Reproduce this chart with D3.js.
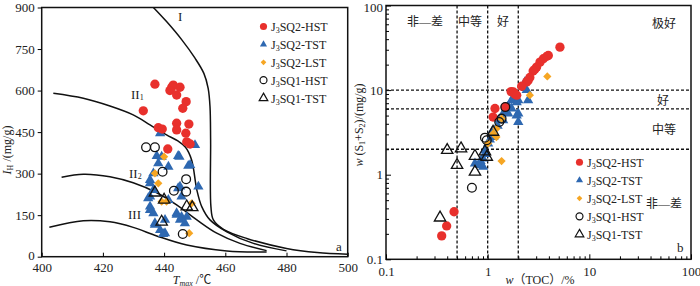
<!DOCTYPE html>
<html>
<head>
<meta charset="utf-8">
<script src="https://cdn.jsdelivr.net/npm/d3@7"></script>
<style>
  body { margin: 0; background: #fff; }
  svg text { font-family: "Liberation Serif", "Noto Sans CJK SC", serif; fill: #222; }
</style>
</head>
<body>
<div id="chart"></div>
<script>
// SERIES NAMES
const seriesNames = ["J3SQ2-HST", "J3SQ2-TST", "J3SQ2-LST", "J3SQ1-HST", "J3SQ1-TST"]

// PANEL a : [Tmax, IH]
const aHST = [[437,623],[443,620],[445.2,612],[442.5,612],[441.9,600],[444.1,584],[447.2,560],[446.1,536],[433.2,527],
  [444.1,482],[448.1,479],[444.1,458],[438.1,466],[439.4,461],[447.1,446],[447.4,415],[448.5,407],[441.2,389]]
const aTST = [[438.7,446],[450.1,403],[439.2,361],[445,361],[438.1,337],[441.4,325],[447.9,328],[436.5,301],[435.4,277],
  [445.2,253],[451.2,253],[436.5,241],[435.4,217],[441.4,205],[445.7,217],[435.4,181],[436.5,157],[444.1,157],
  [445.7,144],[440.3,133],[437,121],[447.4,144],[440.3,85],[438.7,96],[444.6,364],[437.6,364],[448.5,331],
  [435.4,265],[434.8,211],[435.4,169],[444.1,151],[445.2,133],[446.8,121],[437,115],[439.7,82],[444.6,247]]
const aLST = [[440,361],[437,301],[438.1,265],[439.2,199],[440.8,199],[449,193],[448.2,85]]
const aSQ1HST = [[434.1,395],[437,395],[439.5,307],[447.2,280],[443.2,238],[447.2,235],[446.1,82]]
const aSQ1TST = [[437,231],[440,205],[447.4,181],[449.2,178],[439.2,126]]

// PANEL a : KEROGEN BOUNDARY CURVES
const curveI = [[436.5,900],[440.8,849],[445.8,783],[450.1,717],[453,662],[454.4,608],[455,542],[455.2,420],
  [455.3,181],[456.1,133],[459.4,99],[467,66],[480,30],[490,15],[500,9]]
const curveII1 = [[403.8,590],[413.6,572],[422.3,544],[429.9,512],[435.4,476],[440.8,440],[444.5,418],[447,395],
  [449,349],[450.7,241],[452.3,181],[455,133],[460.5,90],[469.2,48],[480,21]]
const curveII2 = [[406.5,287],[413.6,298],[422.3,289],[429.9,267],[437.6,231],[444.1,187],[450.7,133],[457.2,85],
  [464.8,48],[473.5,22]]
const curveIII = [[402.5,106],[413.6,130],[422.3,126],[429.9,106],[437.6,75],[447.4,42],[460.5,21],[473.5,17]]

// PANEL b : [TOC, S1+S2]
const bHST = [[5.14,32.2],[3.95,25.7],[3.82,25.1],[3.53,23.5],[3.27,21.4],[3.03,18.7],[2.9,17.5],[2.80,16.8],
  [2.60,14.1],[2.5,13],[2.42,12.5],[2.16,11.1],[1.79,9.5],[1.7,9.6],[1.85,9.0],[1.93,8.7],[1.18,6.06],[1.49,6.3],
  [1.13,4.8],[0.467,0.365],[0.395,0.248],[0.353,0.189]]
const bTST = [[2.33,12.5],[2.0,7.6],[1.93,5.0],[2.0,4.2],[2.5,7.6],[1.75,7.8],[2.42,10],[1.72,7.6],[1.93,7.2],
  [2.0,5.3],[1.59,5.3],[1.42,4.4],[1.72,6.06],[0.75,1.36],[0.84,1.30],[0.94,1.93],[0.90,1.55],[1.01,2.33],
  [1.14,2.79],[0.90,1.24],[1.05,2.6],[1.1,3.2],[0.95,1.75],[0.85,1.45],[1.25,3.8],[1.3,4.5],[1.6,6.5],[1.45,5.5]]
const bLST = [[3.86,14.5],[2.60,8.7],[1.37,1.45],[1.22,3.5],[1.13,3.05],[1.01,2.35],[1.22,2.79],[1.37,4.6]]
const bSQ1HST = [[1.49,6.3],[1.37,4.6],[1.30,4.2],[0.94,2.74],[0.70,0.70],[0.98,2.55]]
const bSQ1TST = [[0.40,1.95],[0.547,2.04],[0.50,1.30],[0.75,1.66],[0.75,1.08],[0.98,1.62],[0.94,1.88],[0.34,0.31],[1.13,3.2]]

// PANEL b : GRADING LINES
const tocCuts = [0.5, 1, 2]
const sCuts = [2, 6, 10]

// TICKS
const aXTicks = [400, 420, 440, 460, 480, 500]
const aYTicks = [0, 150, 300, 450, 600, 750, 900]
const bTicks = [0.1, 1, 10, 100]

const width = 700, height = 286

const svg = d3.select("#chart").append("svg")
  .attr("width", width)
  .attr("height", height)

// SCALES
const xA = d3.scaleLinear().domain([400, 500]).range([41.7, 347.7])
const yA = d3.scaleLinear().domain([0, 900]).range([256.7, 7.5])
const xB = d3.scaleLog().domain([0.1, 100]).range([386, 691])
const yB = d3.scaleLog().domain([0.1, 100]).range([259.3, 5.5])

// MARKER STYLES
const red = "#e8302c", blue = "#2e68b1", orange = "#f6a623"
const styles = [
  {type: d3.symbolCircle, size: 68, legSize: 40, fill: red, stroke: "none", rot: 0},
  {type: d3.symbolTriangle, size: 46, legSize: 22, fill: blue, stroke: "none", rot: 0},
  {type: d3.symbolSquare, size: 34, legSize: 16, fill: orange, stroke: "none", rot: 45},
  {type: d3.symbolCircle, size: 60, legSize: 38, fill: "none", stroke: "#111", rot: 0},
  {type: d3.symbolTriangle, size: 56, legSize: 32, fill: "none", stroke: "#111", rot: 0}
]

function drawPoints(g, data, st, xs, ys) {
  g.append("g").selectAll("path")
    .data(data)
    .join("path")
      .attr("d", d3.symbol().type(st.type).size(st.size))
      .attr("transform", d => `translate(${xs(d[0])},${ys(d[1])}) rotate(${st.rot})`)
      .attr("fill", st.fill)
      .attr("stroke", st.stroke)
      .attr("stroke-width", 1.3)
}

function seriesLabel(sel, name) {
  // J + subscript 3 + rest
  sel.append("tspan").text(name.slice(0, 1))
  sel.append("tspan").text(name.slice(1, 2)).attr("font-size", 8).attr("dy", 2)
  sel.append("tspan").text(name.slice(2)).attr("dy", -2)
}

// ================= PANEL a =================
const pa = svg.append("g")

// FRAME
pa.append("rect")
  .attr("x", xA(400)).attr("y", yA(900))
  .attr("width", xA(500) - xA(400)).attr("height", yA(0) - yA(900))
  .attr("fill", "none").attr("stroke", "#111").attr("stroke-width", 1.5)

// AXES
pa.append("g")
  .attr("transform", `translate(0,${yA(0)})`)
  .call(d3.axisBottom(xA).tickValues(aXTicks).tickSize(-4).tickSizeOuter(0).tickPadding(6))
  .call(g => g.select(".domain").remove())
  .selectAll("text").attr("font-size", 13).attr("font-family", "Liberation Serif").attr("fill", "#222")

pa.append("g")
  .attr("transform", `translate(${xA(400)},0)`)
  .call(d3.axisLeft(yA).tickValues(aYTicks).tickSize(4).tickSizeOuter(0).tickPadding(3))
  .call(g => g.select(".domain").remove())
  .call(g => g.selectAll(".tick text").filter(d => d === 0).attr("dy", "0.2em"))
  .selectAll("text").attr("font-size", 13).attr("font-family", "Liberation Serif").attr("fill", "#222")

// CURVES
const lineA = d3.line().x(d => xA(d[0])).y(d => yA(d[1])).curve(d3.curveCatmullRom)
;[curveI, curveII1, curveII2, curveIII].forEach(c => {
  pa.append("path").datum(c)
    .attr("d", lineA)
    .attr("fill", "none").attr("stroke", "#111").attr("stroke-width", 1.5)
})

// CURVE LABELS
const curveLabels = [
  {t: "I", sub: "", x: 178, y: 21},
  {t: "II", sub: "1", x: 131, y: 99},
  {t: "II", sub: "2", x: 129, y: 178},
  {t: "III", sub: "", x: 128, y: 219}
]
curveLabels.forEach(l => {
  const t = pa.append("text").attr("x", l.x).attr("y", l.y).attr("font-size", 13)
  t.append("tspan").text(l.t)
  if (l.sub) t.append("tspan").text(l.sub).attr("font-size", 8).attr("dy", 1)
})

// POINTS
;[aTST, aLST, aHST, aSQ1HST, aSQ1TST].forEach((d, i) => {
  const idx = [1, 2, 0, 3, 4][i]
  drawPoints(pa, d, styles[idx], xA, yA)
})

// LEGEND
seriesNames.forEach((name, i) => {
  const ly = 26.5 + i * 17.9
  pa.append("path")
    .attr("d", d3.symbol().type(styles[i].type).size(styles[i].legSize))
    .attr("transform", `translate(263.5,${ly}) rotate(${styles[i].rot})`)
    .attr("fill", styles[i].fill).attr("stroke", styles[i].stroke).attr("stroke-width", 1.2)
  seriesLabel(pa.append("text").attr("x", 271).attr("y", ly + 4.5).attr("font-size", 12), name)
})

pa.append("text").attr("x", 336).attr("y", 251).attr("font-size", 13).text("a")

// AXIS TITLES
const aY = pa.append("text")
  .attr("transform", "translate(11,150) rotate(-90)")
  .attr("text-anchor", "middle").attr("font-size", 12)
aY.append("tspan").text("I").attr("font-style", "italic")
aY.append("tspan").text("H").attr("font-size", 8).attr("dy", 2)
aY.append("tspan").text(" /(mg/g)").attr("dy", -2)

const aX = pa.append("text")
  .attr("x", 192).attr("y", 284)
  .attr("text-anchor", "middle").attr("font-size", 12)
aX.append("tspan").text("T").attr("font-style", "italic")
aX.append("tspan").text("max").attr("font-size", 8).attr("dy", 1.5).attr("font-style", "italic")
aX.append("tspan").text(" /℃").attr("dy", -1.5)

// ================= PANEL b =================
const pb = svg.append("g")

pb.append("rect")
  .attr("x", xB(0.1)).attr("y", yB(100))
  .attr("width", xB(100) - xB(0.1)).attr("height", yB(0.1) - yB(100))
  .attr("fill", "none").attr("stroke", "#111").attr("stroke-width", 1.5)

// MINOR TICKS
const minor = []
;[0.1, 1, 10].forEach(b => { for (let k = 2; k <= 9; k++) minor.push(b * k) })

pb.append("g")
  .attr("transform", `translate(0,${yB(0.1)})`)
  .call(d3.axisBottom(xB).tickValues(minor).tickSize(-3).tickSizeOuter(0).tickFormat(""))
  .call(g => g.select(".domain").remove())
pb.append("g")
  .attr("transform", `translate(${xB(0.1)},0)`)
  .call(d3.axisLeft(yB).tickValues(minor).tickSize(-3).tickSizeOuter(0).tickFormat(""))
  .call(g => g.select(".domain").remove())

// MAJOR TICKS
pb.append("g")
  .attr("transform", `translate(0,${yB(0.1)})`)
  .call(d3.axisBottom(xB).tickValues(bTicks).tickSize(-5).tickSizeOuter(0).tickPadding(7).tickFormat(d => String(d)))
  .call(g => g.select(".domain").remove())
  .selectAll("text").attr("font-size", 13).attr("font-family", "Liberation Serif").attr("fill", "#222")
pb.append("g")
  .attr("transform", `translate(${xB(0.1)},0)`)
  .call(d3.axisLeft(yB).tickValues(bTicks).tickSize(-5).tickSizeOuter(0).tickPadding(3).tickFormat(d => String(d)))
  .call(g => g.select(".domain").remove())
  .call(g => g.selectAll(".tick text").filter(d => d === 100).attr("dy", "0.45em"))
  .selectAll("text").attr("font-size", 13).attr("font-family", "Liberation Serif").attr("fill", "#222")

// GRADING LINES
pb.append("g").selectAll("line")
  .data(tocCuts)
  .join("line")
    .attr("x1", d => xB(d)).attr("x2", d => xB(d))
    .attr("y1", yB(100)).attr("y2", yB(0.1))
    .attr("stroke", "#111").attr("stroke-width", 1.3).attr("stroke-dasharray", "3,2")
pb.append("g").selectAll("line")
  .data(sCuts)
  .join("line")
    .attr("x1", xB(0.1)).attr("x2", xB(100))
    .attr("y1", d => yB(d)).attr("y2", d => yB(d))
    .attr("stroke", "#111").attr("stroke-width", 1.3).attr("stroke-dasharray", "3,2")

// ZONE LABELS
const zoneLabels = [
  {t: "非—差", x: 425, y: 26}, {t: "中等", x: 470, y: 26}, {t: "好", x: 503, y: 26},
  {t: "极好", x: 664, y: 28}, {t: "好", x: 663, y: 105}, {t: "中等", x: 664, y: 134}, {t: "非—差", x: 664, y: 208}
]
pb.selectAll(".zone")
  .data(zoneLabels)
  .join("text")
    .attr("x", d => d.x).attr("y", d => d.y)
    .attr("text-anchor", "middle")
    .attr("font-size", 12)
    .attr("font-family", "Noto Sans CJK SC")
    .attr("fill", "#444")
    .text(d => d.t)

// POINTS
;[bTST, bLST, bHST, bSQ1HST, bSQ1TST].forEach((d, i) => {
  const idx = [1, 2, 0, 3, 4][i]
  drawPoints(pb, d, styles[idx], xB, yB)
})

// LEGEND
seriesNames.forEach((name, i) => {
  const ly = 162.3 + i * 18
  pb.append("path")
    .attr("d", d3.symbol().type(styles[i].type).size(styles[i].legSize))
    .attr("transform", `translate(579.5,${ly}) rotate(${styles[i].rot})`)
    .attr("fill", styles[i].fill).attr("stroke", styles[i].stroke).attr("stroke-width", 1.2)
  seriesLabel(pb.append("text").attr("x", 587).attr("y", ly + 4.5).attr("font-size", 12), name)
})

pb.append("text").attr("x", 677).attr("y", 252).attr("font-size", 13).text("b")

// AXIS TITLES
const bY = pb.append("text")
  .attr("transform", "translate(363,125) rotate(-90)")
  .attr("text-anchor", "middle").attr("font-size", 12)
bY.append("tspan").text("w").attr("font-style", "italic")
bY.append("tspan").text(" (S")
bY.append("tspan").text("1").attr("font-size", 8).attr("dy", 2)
bY.append("tspan").text("+S").attr("dy", -2)
bY.append("tspan").text("2").attr("font-size", 8).attr("dy", 2)
bY.append("tspan").text(")/(mg/g)").attr("dy", -2)

const bX = pb.append("text")
  .attr("x", 540).attr("y", 284)
  .attr("text-anchor", "middle").attr("font-size", 12)
bX.append("tspan").text("w").attr("font-style", "italic")
bX.append("tspan").text("（TOC）/%")
</script>
</body>
</html>
